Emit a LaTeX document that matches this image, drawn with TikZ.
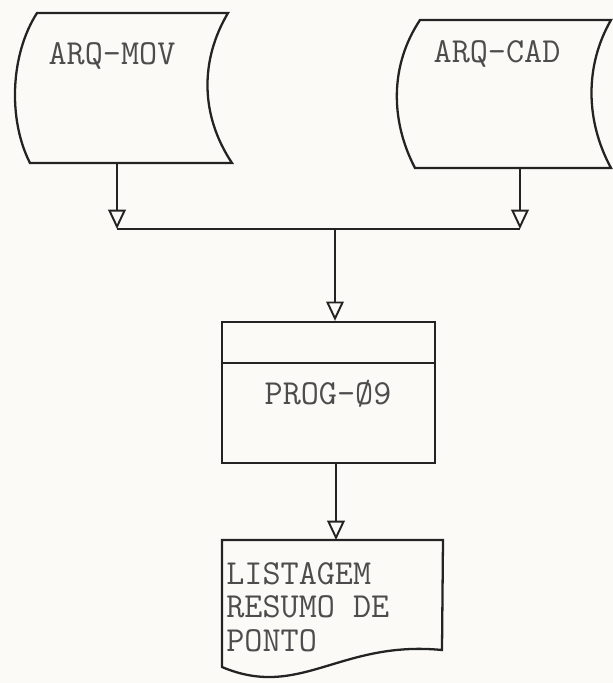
\documentclass[tikz,border=0pt]{standalone}
\usepackage{fontspec}
\usetikzlibrary{arrows.meta}
\definecolor{paper}{RGB}{251,250,246}
\definecolor{ink}{RGB}{35,35,35}
\tikzset{
  outline/.style={draw=ink, line width=1.3pt},
  flow/.style={draw=ink, line width=1.1pt, -{Triangle[open,length=11pt,width=10pt,line width=1.1pt]}},
  typed/.style={font=\ttfamily\fontsize{20}{19}\selectfont, text=black!70, inner sep=0pt},
}
\begin{document}
\begin{tikzpicture}[x=0.2mm,y=-0.2mm]
  \useasboundingbox (0,0) rectangle (613,683);
  \fill[paper] (0,0) rectangle (613,683);
  % input files
  \draw[outline] (37,13) -- (228,13) .. controls (200,60) and (200,115) .. (232,163)
        -- (30,163) .. controls (8,120) and (10,55) .. (37,13) -- cycle;
  \node[typed] (movtxt) at (112,56) {ARQ-MOV};
  \draw[outline] (420,20) -- (611,20) .. controls (585,65) and (585,120) .. (611,168)
        -- (415,168) .. controls (390,120) and (390,65) .. (420,20) -- cycle;
  \node[typed] (cadtxt) at (497,54) {ARQ-CAD};
  \coordinate (movout) at (117,163);
  \coordinate (cadout) at (520,168);
  \coordinate (joinl) at (117,229);
  \coordinate (joinr) at (520,229);
  \coordinate (joinm) at (335,229);
  \draw[flow] (movout) -- (joinl);
  \draw[flow] (cadout) -- (joinr);
  \draw[outline, line width=1.1pt] (joinl) -- (joinr);
  % program
  \node[outline, minimum width=42.6mm, minimum height=28.2mm] (prog) at (328.5,392.5) {};
  \draw[outline] (prog.west |- 0,363) -- (prog.east |- 0,363);
  \node[typed] (progtxt) at (328,394) {PROG-Ø9};
  \draw[flow] (joinm) -- (joinm |- prog.north);
  % report
  \coordinate (listin) at (336,540);
  \draw[flow] (listin |- prog.south) -- (listin);
  \draw[outline] (222,540) -- (443,540) -- (442,650) .. controls (340,640) and (300,700) .. (222,667) -- cycle;
  \node[typed, anchor=north west, align=left] (listtxt) at (226,562) {LISTAGEM\\RESUMO DE\\PONTO};
\end{tikzpicture}
\end{document}
